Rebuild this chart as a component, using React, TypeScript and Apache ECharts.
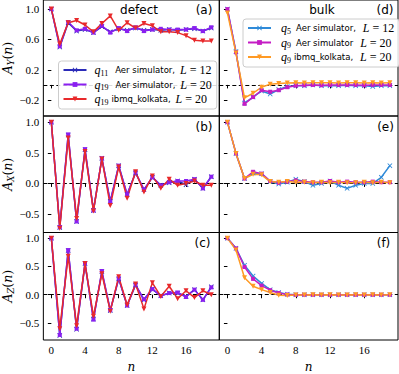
import React, { useEffect, useRef } from "react";
import * as echarts from "echarts";

// ---------- data ----------
const nValues = [0, 1, 2, 3, 4, 5, 6, 7, 8, 9, 10, 11, 12, 13, 14, 15, 16, 17, 18, 19];
const xTicks = [0, 4, 8, 12, 16];
const yTicksTop = [-0.2, 0.2, 0.6, 1.0];
const yTicksMid = [-0.5, 0.0, 0.5, 1.0];

// (a) defect A_Y
const ayDefectQ11 = [1.0, 0.5, 0.82, 0.71, 0.73, 0.69, 0.77, 0.7, 0.74, 0.72, 0.75, 0.72, 0.73, 0.72, 0.73, 0.72, 0.73, 0.74, 0.71, 0.75];
const ayDefectQ19 = [1.0, 0.51, 0.83, 0.72, 0.74, 0.69, 0.78, 0.69, 0.75, 0.71, 0.76, 0.71, 0.73, 0.74, 0.73, 0.73, 0.73, 0.75, 0.71, 0.76];
const ayDefectKolkata = [1.0, 0.54, 0.82, 0.85, 0.79, 0.7, 0.81, 0.91, 0.72, 0.82, 0.75, 0.81, 0.78, 0.7, 0.7, 0.69, 0.65, 0.59, 0.58, 0.58];
// (d) bulk A_Y
const ayBulkQ5 = [1.0, 0.44, -0.24, -0.16, -0.08, -0.12, -0.06, -0.02, -0.01, -0.01, 0.0, -0.01, -0.01, -0.01, -0.005, -0.01, -0.01, -0.02, -0.01, -0.01];
const ayBulkQ9 = [1.0, 0.43, -0.25, -0.16, -0.07, -0.09, -0.07, -0.03, -0.01, -0.005, 0.0, -0.005, 0.0, 0.0, 0.0, 0.0, -0.005, 0.0, 0.0, 0.0];
const ayBulkKolkata = [0.95, 0.42, -0.17, -0.11, -0.03, 0.01, 0.02, 0.025, 0.03, 0.025, 0.03, 0.03, 0.03, 0.025, 0.03, 0.03, 0.025, 0.03, 0.025, 0.03];
// (b) defect A_X
const axDefectQ11 = [1.0, -0.72, 0.79, -0.62, 0.55, -0.44, 0.41, -0.29, 0.29, -0.18, 0.17, -0.1, 0.1, -0.03, 0.01, 0.04, -0.02, 0.07, -0.08, 0.11];
const axDefectQ19 = [1.0, -0.71, 0.8, -0.62, 0.56, -0.44, 0.41, -0.3, 0.29, -0.18, 0.18, -0.1, 0.1, -0.03, 0.02, 0.04, 0.04, 0.07, -0.08, 0.11];
const axDefectKolkata = [1.0, -0.73, 0.74, -0.57, 0.52, -0.45, 0.4, -0.36, 0.27, -0.24, 0.19, -0.14, 0.12, -0.08, 0.07, -0.03, 0.0, 0.04, -0.03, -0.03];
// (e) bulk A_X
const axBulkQ5 = [1.0, 0.49, 0.08, 0.17, 0.16, 0.03, -0.01, 0.02, 0.07, 0.03, -0.03, 0.0, 0.04, -0.03, -0.08, -0.03, 0.0, 0.0, 0.1, 0.29];
const axBulkQ9 = [1.0, 0.49, 0.08, 0.19, 0.16, 0.04, 0.01, 0.03, 0.05, 0.03, 0.02, 0.02, 0.04, 0.02, 0.03, 0.02, 0.02, 0.03, 0.02, 0.02];
const axBulkKolkata = [1.0, 0.49, 0.08, 0.15, 0.14, 0.03, 0.02, 0.03, 0.02, 0.02, 0.01, 0.02, 0.01, 0.02, 0.01, 0.01, 0.02, 0.01, 0.02, 0.01];
// (c) defect A_Z
const azDefectQ11 = [1.0, -0.72, 0.78, -0.61, 0.55, -0.43, 0.41, -0.28, 0.28, -0.19, 0.17, -0.09, 0.1, -0.02, 0.03, 0.03, -0.03, 0.09, -0.09, 0.14];
const azDefectQ19 = [1.0, -0.71, 0.79, -0.6, 0.56, -0.44, 0.42, -0.27, 0.29, -0.19, 0.18, -0.08, 0.1, -0.02, 0.03, 0.04, -0.04, 0.09, -0.09, 0.13];
const azDefectKolkata = [1.0, -0.6, 0.68, -0.55, 0.55, -0.38, 0.37, -0.29, 0.32, -0.18, 0.19, -0.25, 0.21, -0.03, 0.15, -0.07, 0.07, -0.05, 0.07, 0.0];
// (f) bulk A_Z
const azBulkQ5 = [1.0, 0.82, 0.52, 0.33, 0.2, 0.09, 0.04, 0.01, 0.0, 0.0, 0.0, 0.0, 0.0, 0.0, 0.0, 0.0, 0.0, 0.0, 0.0, 0.0];
const azBulkQ9 = [1.0, 0.82, 0.49, 0.28, 0.16, 0.08, 0.03, 0.005, 0.0, 0.0, 0.0, 0.0, 0.0, 0.0, 0.0, 0.0, 0.0, 0.0, 0.0, 0.0];
const azBulkKolkata = [1.0, 0.79, 0.3, 0.15, 0.09, 0.04, -0.01, -0.015, -0.005, -0.005, 0.0, -0.005, 0.0, -0.005, -0.005, 0.0, -0.005, 0.0, -0.005, 0.0];

const panelLabels = ["(a)", "(b)", "(c)", "(d)", "(e)", "(f)"];

// ---------- styles ----------
const C_BLUE_D = "#2b2bb8";
const C_PURPLE = "#8a1ff0";
const C_RED = "#e8292b";
const C_BLUE_B = "#2f8ad8";
const C_MAG = "#c41cc4";
const C_ORANGE = "#ff9a24";
const XSYM = "path://M0,1.2 L1.2,0 L5,3.8 L8.8,0 L10,1.2 L6.2,5 L10,8.8 L8.8,10 L5,6.2 L1.2,10 L0,8.8 L3.8,5 Z";

const SERIF = "Liberation Serif";
const MATH = "DejaVu Serif";
const SANS = "DejaVu Sans";

const richLegend = {
  m: { fontFamily: SERIF, fontStyle: "italic", fontSize: 12, color: "#000", lineHeight: 14 },
  sub: { fontFamily: SERIF, fontSize: 8, color: "#000", verticalAlign: "bottom", lineHeight: 8 },
  r: { fontFamily: SERIF, fontSize: 12, color: "#000", lineHeight: 14 },
  s: { fontFamily: SANS, fontSize: 8.5, color: "#000", lineHeight: 14 },
  g3: { width: 3, lineHeight: 14 },
  g5: { width: 5, lineHeight: 14 },
  g7: { width: 7, lineHeight: 14 },
  g9: { width: 9, lineHeight: 14 },
};

const richAxis = {
  m: { fontFamily: MATH, fontStyle: "italic", fontSize: 12.5, color: "#000", lineHeight: 16 },
  sub: { fontFamily: MATH, fontStyle: "italic", fontSize: 8.5, color: "#000", verticalAlign: "bottom", lineHeight: 9 },
  r: { fontFamily: MATH, fontSize: 12.5, color: "#000", lineHeight: 16 },
};

const legendText: Record<string, string> = {
  a1: "{g3| }{m|q}{sub|11}{g7| }{s|Aer simulator,}{g5| }{m|L}{r| = 12}",
  a2: "{g3| }{m|q}{sub|19}{g7| }{s|Aer simulator,}{g5| }{m|L}{r| = 20}",
  a3: "{g3| }{m|q}{sub|19}{g3| }{s|ibmq_kolkata,}{g5| }{m|L}{r| = 20}",
  d1: "{g5| }{m|q}{sub|5}{g5| }{s|Aer simulator,}{g7| }{m|L}{r| = 12}",
  d2: "{g5| }{m|q}{sub|9}{g5| }{s|Aer simulator}{g7| }{m|L}{r| = 20}",
  d3: "{g5| }{m|q}{sub|9}{g3| }{s|ibmq_kolkata,}{g7| }{m|L}{r| = 20}",
};

function fmtTick(v: number) {
  const s = Math.abs(v).toFixed(1);
  return v < -1e-9 ? "\u2212" + s : s;
}

export default function App() {
  const ref = useRef<HTMLDivElement>(null);
  useEffect(() => {
    document.body.style.margin = "0";
    if (!ref.current) return;
    const chart = echarts.init(ref.current, undefined, { renderer: "svg" });

    const colL = { left: 40.5, width: 178.8 };
    const colR = { left: 219.3, width: 178.7 };
    const rows = [
      { top: 0, height: 116 },
      { top: 116, height: 116.5 },
      { top: 232.5, height: 116.5 },
    ];
    const grids: any[] = [];
    [colL, colR].forEach((c) =>
      rows.forEach((r) =>
        grids.push({
          left: c.left,
          width: c.width,
          top: r.top,
          height: r.height,
          show: true,
          borderColor: "#000",
          borderWidth: 1,
          backgroundColor: "transparent",
        })
      )
    );

    const yNames = [
      "{m|A}{sub|Y}{r|(}{m|n}{r|)}",
      "{m|A}{sub|X}{r|(}{m|n}{r|)}",
      "{m|A}{sub|Z}{r|(}{m|n}{r|)}",
    ];
    const yRanges = [
      [-0.41, 1.12],
      [-0.8, 1.1],
      [-0.8, 1.1],
    ];
    const yTicksRows = [yTicksTop, yTicksMid, yTicksMid];

    const xAxes: any[] = [];
    const yAxes: any[] = [];
    for (let g = 0; g < 6; g++) {
      const row = g % 3;
      const isLeft = g < 3;
      const bottom = row === 2;
      xAxes.push({
        type: "value",
        gridIndex: g,
        min: -0.95,
        max: 19.95,
        splitLine: { show: false },
        axisLine: { show: false },
        axisTick: { show: true, inside: false, length: 3.5, customValues: xTicks, lineStyle: { color: "#000" } },
        axisLabel: {
          show: bottom,
          customValues: xTicks,
          fontFamily: SERIF,
          fontSize: 11,
          color: "#000",
          margin: 4,
        },
        name: bottom ? "n" : "",
        nameLocation: "middle",
        nameGap: 21,
        nameTextStyle: { fontFamily: MATH, fontStyle: "italic", fontSize: 12, color: "#000" },
      });
      yAxes.push({
        type: "value",
        gridIndex: g,
        min: yRanges[row][0],
        max: yRanges[row][1],
        splitLine: { show: false },
        axisLine: { show: false },
        axisTick: { show: true, inside: false, length: 3.5, customValues: yTicksRows[row], lineStyle: { color: "#000" } },
        axisLabel: {
          show: isLeft,
          customValues: yTicksRows[row],
          formatter: (v: number) => fmtTick(v),
          fontFamily: SERIF,
          fontSize: 11,
          color: "#000",
          margin: 4,
        },
        name: isLeft ? yNames[row] : "",
        nameLocation: "middle",
        nameGap: 23,
        nameTextStyle: { rich: richAxis },
      });
    }

    const mk = (
      name: string,
      g: number,
      vals: number[],
      color: string,
      symbol: string,
      size: number,
      rotate = 0,
      zero = false
    ) => {
      const s: any = {
        name,
        type: "line",
        xAxisIndex: g,
        yAxisIndex: g,
        data: nValues.map((n, i) => [n, vals[i]]),
        symbol,
        symbolSize: size,
        symbolRotate: rotate,
        showSymbol: true,
        color,
        lineStyle: { color, width: 1.5 },
        itemStyle: { color, borderWidth: 0 },
        emphasis: { disabled: true },
      };
      if (zero) {
        s.markLine = {
          silent: true,
          symbol: "none",
          label: { show: false },
          lineStyle: { type: [4, 2.5], color: "#000", width: 1 },
          data: [{ yAxis: 0 }],
          z: 1,
        };
      }
      return s;
    };

    const series = [
      mk("a1", 0, ayDefectQ11, C_BLUE_D, XSYM, 5, 0, true),
      mk("a2", 0, ayDefectQ19, C_PURPLE, "rect", 4),
      mk("a3", 0, ayDefectKolkata, C_RED, "triangle", 5, 180),
      mk("b1", 1, axDefectQ11, C_BLUE_D, XSYM, 5, 0, true),
      mk("b2", 1, axDefectQ19, C_PURPLE, "rect", 4),
      mk("b3", 1, axDefectKolkata, C_RED, "triangle", 5, 180),
      mk("c1", 2, azDefectQ11, C_BLUE_D, XSYM, 5, 0, true),
      mk("c2", 2, azDefectQ19, C_PURPLE, "rect", 4),
      mk("c3", 2, azDefectKolkata, C_RED, "triangle", 5, 180),
      mk("d1", 3, ayBulkQ5, C_BLUE_B, XSYM, 5, 0, true),
      mk("d2", 3, ayBulkQ9, C_MAG, "rect", 4),
      mk("d3", 3, ayBulkKolkata, C_ORANGE, "triangle", 5, 180),
      mk("e1", 4, axBulkQ5, C_BLUE_B, XSYM, 5, 0, true),
      mk("e2", 4, axBulkQ9, C_MAG, "rect", 4),
      mk("e3", 4, axBulkKolkata, C_ORANGE, "triangle", 5, 180),
      mk("f1", 5, azBulkQ5, C_BLUE_B, XSYM, 5, 0, true),
      mk("f2", 5, azBulkQ9, C_MAG, "rect", 4),
      mk("f3", 5, azBulkKolkata, C_ORANGE, "triangle", 5, 180),
    ];

    const legendBase = {
      orient: "vertical",
      itemWidth: 23,
      itemHeight: 6,
      itemGap: 1.5,
      padding: [3, 5, 3, 4],
      backgroundColor: "rgba(255,255,255,0.85)",
      borderColor: "#cccccc",
      borderWidth: 1,
      borderRadius: 3,
      selectedMode: false,
      formatter: (name: string) => legendText[name] || name,
      textStyle: { rich: richLegend },
    };

    const texts: any[] = [
      { type: "text", x: 139, y: 10, style: { text: "defect", font: `12px '${SANS}'`, fill: "#000", align: "center", verticalAlign: "middle" } },
      { type: "text", x: 322, y: 10, style: { text: "bulk", font: `12px '${SANS}'`, fill: "#000", align: "center", verticalAlign: "middle" } },
    ];
    const labelPos = [
      [204, 10],
      [204, 126.5],
      [202.5, 243],
      [385, 10],
      [385.5, 126.5],
      [383.5, 243],
    ];
    panelLabels.forEach((t, i) =>
      texts.push({
        type: "text",
        x: labelPos[i][0],
        y: labelPos[i][1],
        style: { text: t, font: `12px '${SANS}'`, fill: "#000", align: "center", verticalAlign: "middle" },
      })
    );

    chart.setOption({
      animation: false,
      backgroundColor: "#fff",
      grid: grids,
      xAxis: xAxes,
      yAxis: yAxes,
      series,
      legend: [
        { ...legendBase, left: 58.5, top: 61, data: ["a1", "a2", "a3"] },
        { ...legendBase, left: 243, top: 19, data: ["d1", "d2", "d3"] },
      ],
      graphic: texts,
    });
    return () => chart.dispose();
  }, []);
  return <div ref={ref} style={{ width: 399, height: 374 }} />;
}
